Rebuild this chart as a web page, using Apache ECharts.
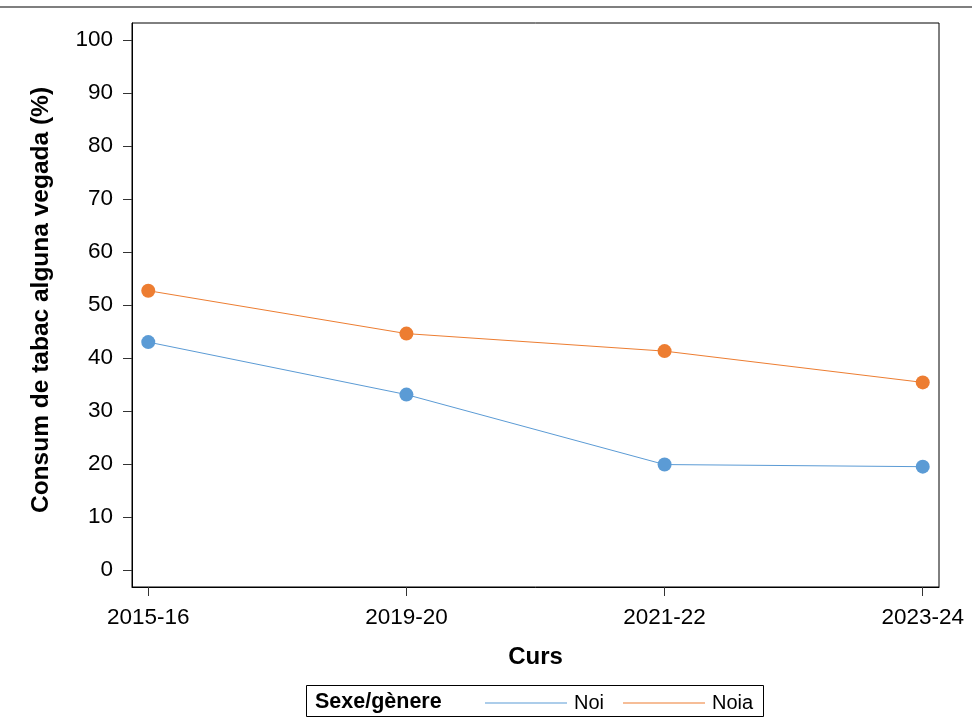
<!DOCTYPE html>
<html>
<head>
<meta charset="utf-8">
<script src="https://cdn.jsdelivr.net/npm/echarts@6/dist/echarts.min.js"></script>
<style>
html,body{margin:0;padding:0;background:#fff;}
#chart{width:972px;height:726px;}
</style>
</head>
<body>
<div id="chart"></div>
<script>
const categories = ['2015-16', '2019-20', '2021-22', '2023-24'];
const noi = [43.0, 33.1, 19.9, 19.5];
const noia = [52.7, 44.6, 41.3, 35.4];
const yTicks = [0, 10, 20, 30, 40, 50, 60, 70, 80, 90, 100];

const FONT = '"Liberation Sans", Arial, sans-serif';
const chart = echarts.init(document.getElementById('chart'), null, {renderer: 'canvas'});

const xIdx = categories.map((c, i) => i);

chart.setOption({
  animation: false,
  backgroundColor: '#fff',
  textStyle: {fontFamily: FONT},
  grid: {left: 132, right: 33, top: 23, bottom: 139, show: true, borderColor: '#000', borderWidth: 1},
  xAxis: {
    type: 'value',
    min: -0.063, max: 3.063,
    splitLine: {show: false},
    axisLine: {show: true, onZero: false, lineStyle: {color: '#000', width: 1}},
    axisTick: {show: true, customValues: xIdx, length: 9, lineStyle: {color: '#333'}},
    axisLabel: {customValues: xIdx, formatter: v => categories[Math.round(v)], color: '#000', fontSize: 22.5, margin: 19, fontFamily: FONT},
    name: 'Curs', nameLocation: 'middle', nameGap: 58,
    nameTextStyle: {fontSize: 24, fontWeight: 'bold', color: '#000', fontFamily: FONT}
  },
  yAxis: {
    type: 'value',
    min: -3.2, max: 103.2,
    splitLine: {show: false},
    axisLine: {show: true, onZero: false, lineStyle: {color: '#000', width: 1}},
    axisTick: {show: true, customValues: yTicks, length: 9, lineStyle: {color: '#333'}},
    axisLabel: {customValues: yTicks, color: '#000', fontSize: 22.5, margin: 19, fontFamily: FONT},
    name: 'Consum de tabac alguna vegada (%)', nameLocation: 'middle', nameGap: 78, nameRotate: 90,
    nameTextStyle: {fontSize: 24.5, fontWeight: 'bold', color: '#000', fontFamily: FONT, padding: [0, 0, 0, 10]}
  },
  legend: {
    left: 480, top: 688,
    icon: 'rect', itemWidth: 82, itemHeight: 1.2, itemGap: 19,
    textStyle: {fontSize: 20, color: '#000', fontFamily: FONT, padding: [0, 0, 0, 2]},
    data: ['Noi', 'Noia']
  },
  series: [
    {name: 'Noi', type: 'line', data: noi.map((v, i) => [i, v]), symbol: 'circle', symbolSize: 14,
     lineStyle: {color: '#5b9bd5', width: 1}, itemStyle: {color: '#5b9bd5'}},
    {name: 'Noia', type: 'line', data: noia.map((v, i) => [i, v]), symbol: 'circle', symbolSize: 14,
     lineStyle: {color: '#ed7d31', width: 1}, itemStyle: {color: '#ed7d31'}}
  ],
  graphic: [
    {type: 'line', shape: {x1: 0, y1: 7, x2: 972, y2: 7}, style: {stroke: '#555', lineWidth: 1.3}},
    {type: 'rect', shape: {x: 306.5, y: 685.5, width: 457, height: 31}, style: {fill: 'none', stroke: '#000', lineWidth: 1}},
    {type: 'text', left: 315, top: 691, style: {text: 'Sexe/gènere', font: 'bold 21.5px ' + FONT, fill: '#000'}}
  ]
});
</script>
</body>
</html>
